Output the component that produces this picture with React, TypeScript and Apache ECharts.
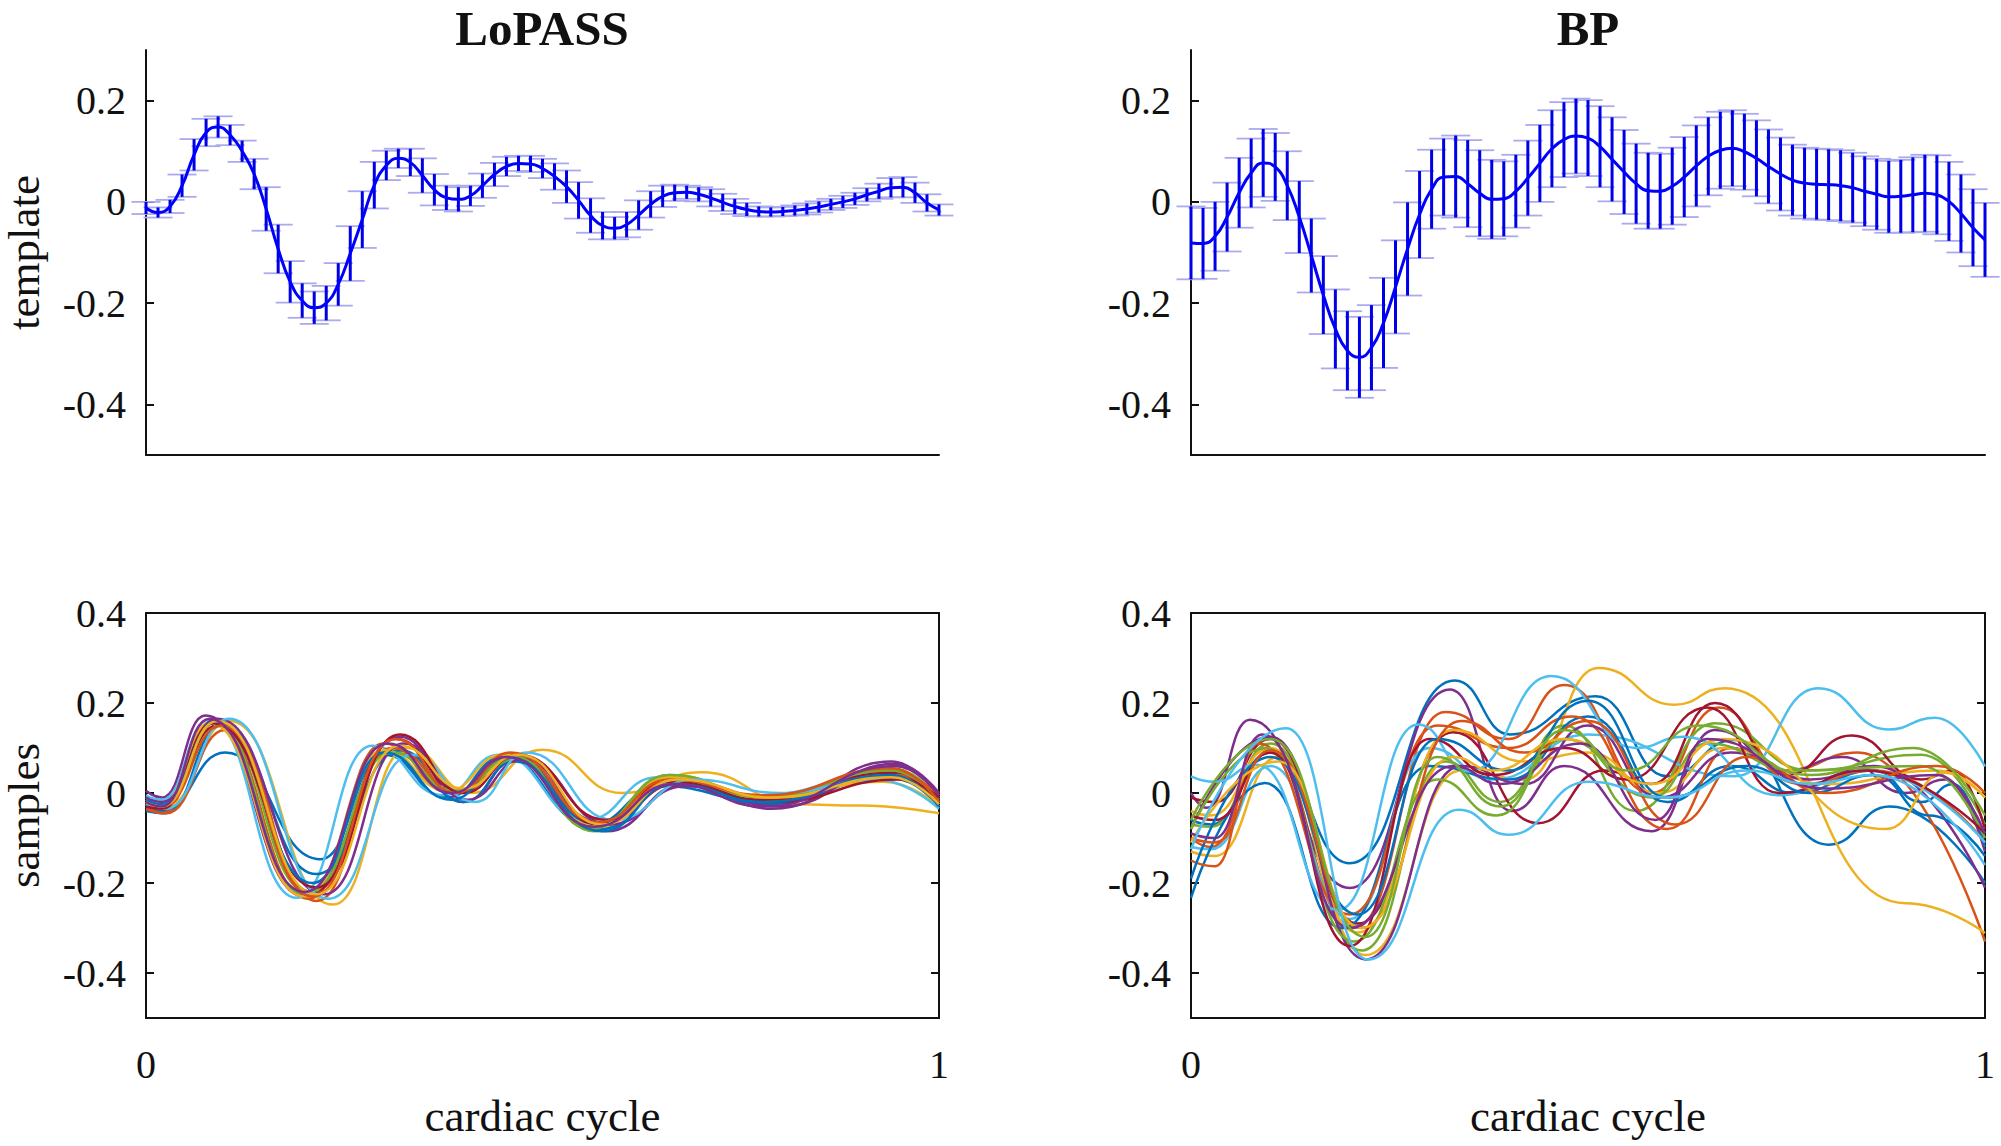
import React, { useEffect, useRef } from "react";
import * as echarts from "echarts";

// ---------- template (mean ± error) sampled at 67 evenly spaced points of the cycle ----------
const templateX = Array.from({ length: 67 }, (_, i) => i / 66);

const lopassMean = [
  -0.012, -0.021, -0.009, 0.032, 0.093, 0.137, 0.148, 0.132, 0.100, 0.055,
  -0.014, -0.093, -0.158, -0.195, -0.209, -0.200, -0.163, -0.102, -0.035, 0.033,
  0.072, 0.086, 0.078, 0.052, 0.024, 0.008, 0.005, 0.012, 0.032, 0.054,
  0.070, 0.076, 0.075, 0.066, 0.050, 0.030, 0.003, -0.027, -0.047, -0.052,
  -0.045, -0.026, -0.005, 0.011, 0.018, 0.019, 0.015, 0.008, -0.001, -0.009,
  -0.015, -0.019, -0.020, -0.019, -0.017, -0.014, -0.010, -0.005, 0.000, 0.006,
  0.014, 0.021, 0.028, 0.029, 0.018, -0.002, -0.016,
];
const lopassErr = [
  0.012, 0.010, 0.013, 0.022, 0.031, 0.027, 0.021, 0.020, 0.021, 0.030,
  0.043, 0.048, 0.041, 0.034, 0.032, 0.034, 0.042, 0.054, 0.056, 0.046,
  0.029, 0.019, 0.027, 0.034, 0.031, 0.024, 0.024, 0.020, 0.024, 0.023,
  0.019, 0.015, 0.016, 0.019, 0.026, 0.032, 0.036, 0.034, 0.027, 0.022,
  0.025, 0.029, 0.026, 0.021, 0.016, 0.013, 0.014, 0.017, 0.017, 0.015,
  0.013, 0.010, 0.009, 0.009, 0.010, 0.011, 0.011, 0.011, 0.012, 0.012,
  0.013, 0.015, 0.019, 0.020, 0.020, 0.017, 0.011,
];
const bpMean = [
  -0.081, -0.082, -0.068, -0.030, 0.018, 0.057, 0.077, 0.069, 0.032, -0.030,
  -0.106, -0.184, -0.251, -0.294, -0.307, -0.288, -0.239, -0.168, -0.093, -0.025,
  0.025, 0.049, 0.050, 0.036, 0.017, 0.005, 0.006, 0.021, 0.047, 0.076,
  0.105, 0.123, 0.130, 0.126, 0.109, 0.084, 0.059, 0.036, 0.022, 0.021,
  0.031, 0.049, 0.071, 0.090, 0.102, 0.106, 0.099, 0.086, 0.070, 0.055,
  0.043, 0.037, 0.035, 0.034, 0.032, 0.028, 0.021, 0.015, 0.010, 0.011,
  0.014, 0.017, 0.014, 0.001, -0.023, -0.051, -0.075,
];
const bpErr = [
  0.072, 0.070, 0.068, 0.068, 0.069, 0.068, 0.067, 0.067, 0.068, 0.071,
  0.073, 0.077, 0.078, 0.078, 0.080, 0.084, 0.089, 0.092, 0.092, 0.086,
  0.078, 0.076, 0.081, 0.086, 0.085, 0.078, 0.074, 0.072, 0.074, 0.076,
  0.076, 0.074, 0.074, 0.075, 0.080, 0.083, 0.083, 0.079, 0.075, 0.074,
  0.076, 0.079, 0.080, 0.077, 0.076, 0.075, 0.075, 0.075, 0.073, 0.072,
  0.070, 0.070, 0.070, 0.070, 0.070, 0.069, 0.069, 0.070, 0.071, 0.072,
  0.074, 0.076, 0.078, 0.078, 0.077, 0.076, 0.073,
];

// ---------- tick values ----------
const yTicksTop = [-0.4, -0.2, 0, 0.2];
const yTicksBottom = [-0.4, -0.2, 0, 0.2, 0.4];
const xTicks = [0, 1];

// ---------- individual samples, [cycle position, value] at their turning points ----------
const lp01 = [[0, -0.03], [0.02, -0.04], [0.1, 0.09], [0.22, -0.147], [0.3, 0.085], [0.38, -0.01], [0.45, 0.08], [0.56, -0.07], [0.65, 0.015], [0.78, -0.02], [0.93, 0.035], [1, -0.01]];
const lp02 = [[0, -0.025], [0.02, -0.045], [0.085, 0.16], [0.205, -0.235], [0.3, 0.11], [0.385, 0.0], [0.46, 0.085], [0.575, -0.065], [0.66, 0.025], [0.78, -0.01], [0.94, 0.05], [1, -0.025]];
const lp03 = [[0, -0.02], [0.025, -0.03], [0.105, 0.16], [0.236, -0.248], [0.33, 0.1], [0.41, 0.0], [0.5, 0.096], [0.6, 0.0], [0.7, 0.046], [0.82, -0.025], [0.9, -0.028], [1, -0.045]];
const lp04 = [[0, 0.005], [0.02, -0.01], [0.075, 0.172], [0.2, -0.23], [0.32, 0.125], [0.4, -0.02], [0.47, 0.08], [0.58, -0.085], [0.68, 0.02], [0.79, -0.035], [0.94, 0.07], [1, -0.005]];
const lp05 = [[0, -0.01], [0.02, -0.02], [0.085, 0.16], [0.2, -0.225], [0.305, 0.095], [0.39, 0.0], [0.47, 0.075], [0.565, -0.085], [0.66, 0.04], [0.78, -0.01], [0.94, 0.055], [1, -0.01]];
const lp06 = [[0, -0.005], [0.02, -0.015], [0.08, 0.163], [0.19, -0.233], [0.285, 0.105], [0.375, -0.005], [0.445, 0.085], [0.555, -0.06], [0.645, 0.035], [0.77, -0.005], [0.93, 0.04], [1, -0.02]];
const lp07 = [[0, -0.02], [0.02, -0.03], [0.09, 0.15], [0.21, -0.22], [0.315, 0.12], [0.395, 0.005], [0.46, 0.08], [0.57, -0.07], [0.66, 0.025], [0.78, -0.015], [0.94, 0.045], [1, -0.02]];
const lp08 = [[0, -0.04], [0.025, -0.045], [0.095, 0.15], [0.215, -0.18], [0.32, 0.095], [0.4, -0.02], [0.465, 0.07], [0.575, -0.08], [0.67, 0.03], [0.78, -0.025], [0.94, 0.035], [1, -0.03]];
const lp09 = [[0, -0.035], [0.025, -0.045], [0.1, 0.14], [0.215, -0.24], [0.31, 0.1], [0.395, 0.0], [0.46, 0.085], [0.565, -0.075], [0.67, 0.03], [0.79, -0.01], [0.95, 0.04], [1, -0.005]];
const lp10 = [[0, -0.015], [0.02, -0.025], [0.08, 0.155], [0.2, -0.23], [0.3, 0.095], [0.38, 0.005], [0.45, 0.085], [0.57, -0.075], [0.66, 0.035], [0.78, -0.01], [0.93, 0.025], [1, -0.03]];
const lp11 = [[0, -0.01], [0.02, -0.02], [0.09, 0.165], [0.225, -0.225], [0.325, 0.11], [0.405, -0.015], [0.475, 0.075], [0.585, -0.07], [0.68, 0.015], [0.8, -0.03], [0.945, 0.065], [1, 0.0]];
const lp12 = [[0, -0.02], [0.02, -0.03], [0.09, 0.158], [0.205, -0.22], [0.31, 0.09], [0.39, 0.005], [0.465, 0.08], [0.56, -0.08], [0.66, 0.04], [0.78, -0.01], [0.94, 0.05], [1, -0.015]];
const lp13 = [[0, -0.025], [0.025, -0.035], [0.105, 0.165], [0.23, -0.235], [0.335, 0.085], [0.415, -0.02], [0.48, 0.09], [0.59, -0.06], [0.69, 0.03], [0.8, 0.0], [0.92, 0.03], [1, -0.035]];
const lp14 = [[0, -0.03], [0.02, -0.035], [0.085, 0.155], [0.215, -0.21], [0.32, 0.13], [0.4, 0.0], [0.47, 0.085], [0.58, -0.06], [0.67, 0.02], [0.79, -0.02], [0.95, 0.03], [1, -0.01]];
const lp15 = [[0, -0.015], [0.02, -0.025], [0.09, 0.16], [0.21, -0.2], [0.3, 0.09], [0.385, -0.015], [0.455, 0.08], [0.575, -0.085], [0.665, 0.02], [0.78, -0.02], [0.94, 0.04], [1, -0.03]];
const lp16 = [[0, -0.02], [0.02, -0.03], [0.095, 0.15], [0.21, -0.23], [0.315, 0.12], [0.39, 0.0], [0.46, 0.09], [0.57, -0.065], [0.66, 0.03], [0.78, -0.005], [0.94, 0.055], [1, -0.02]];
const lp17 = [[0, -0.02], [0.02, -0.03], [0.09, 0.16], [0.215, -0.225], [0.32, 0.105], [0.4, 0.01], [0.47, 0.085], [0.575, -0.07], [0.67, 0.03], [0.79, -0.01], [0.94, 0.035], [1, -0.025]];
const lp18 = [[0, -0.02], [0.02, -0.03], [0.08, 0.165], [0.2, -0.22], [0.305, 0.11], [0.385, 0.0], [0.455, 0.08], [0.565, -0.075], [0.665, 0.02], [0.78, -0.03], [0.945, 0.06], [1, -0.005]];

const bp01 = [[0, -0.06], [0.025, -0.07], [0.1, 0.09], [0.2, -0.156], [0.332, 0.25], [0.402, 0.13], [0.51, 0.215], [0.6, 0.037], [0.685, 0.118], [0.803, -0.115], [0.88, -0.03], [1, -0.2]];
const bp02 = [[0, -0.1], [0.025, -0.12], [0.095, 0.1], [0.205, -0.3], [0.32, 0.18], [0.4, 0.12], [0.47, 0.24], [0.58, 0.0], [0.665, 0.19], [0.75, 0.05], [0.84, 0.09], [1, -0.33]];
const bp03 = [[0, -0.13], [0.03, -0.14], [0.11, 0.08], [0.22, -0.36], [0.34, 0.05], [0.42, 0.03], [0.513, 0.278], [0.609, 0.196], [0.672, 0.233], [0.9, -0.245], [1, -0.311]];
const bp04 = [[0, 0.0], [0.02, -0.033], [0.074, 0.163], [0.2, -0.211], [0.326, 0.23], [0.404, -0.04], [0.47, 0.06], [0.58, -0.085], [0.66, 0.14], [0.75, 0.05], [0.82, 0.08], [0.9, 0.0], [0.95, 0.03], [1, -0.13]];
const bp05 = [[0, -0.07], [0.025, -0.075], [0.1, 0.11], [0.215, -0.35], [0.32, 0.07], [0.39, -0.02], [0.47, 0.15], [0.56, -0.04], [0.66, 0.155], [0.78, 0.05], [0.92, 0.085], [1, -0.07]];
const bp06 = [[0, -0.12], [0.025, -0.125], [0.1, 0.06], [0.2, -0.28], [0.3, 0.1], [0.38, 0.03], [0.5, 0.13], [0.685, 0.037], [0.79, 0.233], [0.878, 0.141], [0.937, 0.167], [1, 0.059]];
const bp07 = [[0, -0.01], [0.03, -0.02], [0.1, 0.12], [0.21, -0.29], [0.33, 0.135], [0.437, -0.067], [0.52, 0.05], [0.58, 0.02], [0.66, 0.2], [0.75, 0.04], [0.832, 0.128], [0.92, 0.03], [0.96, 0.05], [1, -0.08]];
const bp08 = [[0, -0.233], [0.093, 0.022], [0.19, -0.3], [0.3, 0.06], [0.4, 0.03], [0.5, 0.17], [0.6, -0.02], [0.68, 0.06], [0.76, 0.0], [0.86, 0.05], [0.92, -0.02], [0.96, 0.02], [1, -0.12]];
const bp09 = [[0, -0.15], [0.03, -0.163], [0.085, 0.11], [0.2, -0.27], [0.31, 0.15], [0.4, 0.1], [0.48, 0.17], [0.6, -0.08], [0.68, 0.1], [0.77, 0.02], [0.86, 0.05], [1, -0.11]];
const bp10 = [[0, -0.04], [0.025, -0.05], [0.1, 0.1], [0.21, -0.31], [0.33, 0.14], [0.42, 0.07], [0.5, 0.09], [0.59, 0.0], [0.67, 0.1], [0.8, 0.02], [0.94, 0.05], [1, -0.01]];
const bp11 = [[0, -0.08], [0.1, 0.125], [0.22, -0.37], [0.34, 0.06], [0.42, 0.02], [0.5, 0.15], [0.59, -0.01], [0.68, 0.09], [0.78, 0.03], [0.86, 0.06], [1, -0.21]];
const bp12 = [[0, -0.08], [0.095, 0.1], [0.205, -0.33], [0.31, 0.03], [0.385, -0.05], [0.47, 0.12], [0.58, -0.01], [0.65, 0.11], [0.76, 0.05], [0.92, 0.06], [1, -0.1]];
const bp13 = [[0, 0.037], [0.03, 0.025], [0.083, 0.063], [0.185, -0.26], [0.286, 0.152], [0.35, 0.048], [0.454, 0.26], [0.56, 0.1], [0.62, 0.125], [0.74, -0.005], [0.85, 0.05], [1, -0.11]];
const bp14 = [[0, -0.05], [0.03, -0.06], [0.1, 0.09], [0.2, -0.34], [0.3, 0.12], [0.38, 0.04], [0.47, 0.1], [0.55, 0.03], [0.65, 0.19], [0.74, 0.0], [0.85, 0.05], [1, -0.09]];
const bp15 = [[0, -0.19], [0.1, 0.08], [0.21, -0.27], [0.31, 0.12], [0.4, 0.05], [0.5, 0.205], [0.6, -0.01], [0.7, 0.06], [0.78, 0.0], [0.86, 0.04], [0.93, -0.05], [1, -0.14]];
const bp16 = [[0, -0.1], [0.03, -0.11], [0.1, 0.095], [0.215, -0.3], [0.34, 0.16], [0.42, 0.09], [0.5, 0.16], [0.61, -0.07], [0.7, 0.08], [0.8, 0.0], [0.94, 0.06], [1, 0.0]];
const bp17 = [[0, -0.11], [0.11, 0.07], [0.215, -0.3], [0.33, 0.08], [0.38, 0.05], [0.47, 0.12], [0.58, 0.02], [0.67, 0.12], [0.875, -0.08], [0.95, 0.045], [1, -0.01]];
const bp18 = [[0, -0.09], [0.03, -0.1], [0.09, 0.13], [0.2, -0.3], [0.33, 0.06], [0.39, 0.02], [0.49, 0.11], [0.585, -0.06], [0.65, 0.12], [0.8, 0.01], [0.94, 0.04], [1, -0.09]];
const bp19 = [[0, -0.06], [0.1, 0.12], [0.22, -0.32], [0.31, 0.08], [0.39, -0.03], [0.47, 0.14], [0.55, 0.05], [0.64, 0.15], [0.78, 0.04], [0.91, 0.1], [1, -0.05]];
const bp20 = [[0, -0.125], [0.12, 0.144], [0.223, -0.37], [0.337, -0.037], [0.4, -0.093], [0.5, 0.025], [0.6, -0.01], [0.7, 0.05], [0.78, 0.02], [0.86, 0.04], [1, -0.16]];

const lopassSamples = [lp01, lp02, lp03, lp04, lp05, lp06, lp07, lp08, lp09, lp10, lp11, lp12, lp13, lp14, lp15, lp16, lp17, lp18];
const bpSamples = [bp01, bp02, bp03, bp04, bp05, bp06, bp07, bp08, bp09, bp10, bp11, bp12, bp13, bp14, bp15, bp16, bp17, bp18, bp19, bp20];

const lineColors = ["#0072BD", "#D95319", "#EDB120", "#7E2F8E", "#77AC30", "#4DBEEE", "#A2142F"];

const FONT = "'Liberation Serif', 'Times New Roman', serif";
const INK = "#111111";

function fmtY(v: number) {
  const r = Math.round(v * 10) / 10;
  return r === 0 ? "0" : r.toFixed(1);
}

function buildOption() {
  const grids = [
    { left: 145, top: 50, width: 794, height: 405 },
    { left: 1191, top: 50, width: 794, height: 405 },
    { left: 145, top: 613, width: 794, height: 405 },
    { left: 1191, top: 613, width: 794, height: 405 },
  ];

  const axisLine = { show: true, onZero: false, lineStyle: { color: INK, width: 2 } };
  const tickStyle = { color: INK, width: 2 };

  const yMain = (gridIndex: number, min: number, max: number, ticks: number[], name: string) => ({
    type: "value",
    gridIndex,
    min,
    max,
    position: "left",
    axisLine,
    axisTick: { show: true, inside: true, length: 8, customValues: ticks, lineStyle: tickStyle },
    axisLabel: { show: true, customValues: ticks, margin: 20, fontSize: 40, fontFamily: FONT, color: INK, formatter: fmtY },
    splitLine: { show: false },
    name,
    nameLocation: "middle",
    nameGap: 100,
    nameRotate: 90,
    nameTextStyle: { fontSize: 45, fontFamily: FONT, color: INK },
  });

  const yRight = (gridIndex: number, min: number, max: number, ticks: number[]) => ({
    type: "value",
    gridIndex,
    min,
    max,
    position: "right",
    axisLine,
    axisTick: { show: true, inside: true, length: 8, customValues: ticks, lineStyle: tickStyle },
    axisLabel: { show: false },
    splitLine: { show: false },
  });

  const xTop = (gridIndex: number) => ({
    type: "value",
    gridIndex,
    min: 0,
    max: 1,
    position: "bottom",
    axisLine,
    axisTick: { show: false },
    axisLabel: { show: false },
    splitLine: { show: false },
  });

  const xBottom = (gridIndex: number) => ({
    type: "value",
    gridIndex,
    min: 0,
    max: 1,
    position: "bottom",
    axisLine,
    axisTick: { show: true, inside: true, length: 8, customValues: xTicks, lineStyle: tickStyle },
    axisLabel: { show: true, customValues: xTicks, margin: 26, fontSize: 40, fontFamily: FONT, color: INK, formatter: (v: number) => String(Math.round(v)) },
    splitLine: { show: false },
    name: "cardiac cycle",
    nameLocation: "middle",
    nameGap: 75,
    nameTextStyle: { fontSize: 45, fontFamily: FONT, color: INK },
  });

  const xFrame = (gridIndex: number) => ({
    type: "value",
    gridIndex,
    min: 0,
    max: 1,
    position: "top",
    axisLine,
    axisTick: { show: true, inside: true, length: 8, customValues: xTicks, lineStyle: tickStyle },
    axisLabel: { show: false },
    splitLine: { show: false },
  });

  const xAxis = [xTop(0), xTop(1), xBottom(2), xBottom(3), xFrame(2), xFrame(3)];
  const yAxis = [
    yMain(0, -0.5, 0.3, yTicksTop, "template"),
    { ...yMain(1, -0.5, 0.3, yTicksTop, ""), name: "" },
    yMain(2, -0.5, 0.4, yTicksBottom, "samples"),
    { ...yMain(3, -0.5, 0.4, yTicksBottom, ""), name: "" },
    yRight(2, -0.5, 0.4, yTicksBottom),
    yRight(3, -0.5, 0.4, yTicksBottom),
  ];

  const series: any[] = [];

  const addTemplate = (axisIndex: number, mean: number[], err: number[]) => {
    const ebData = templateX.map((x, i) => [x, mean[i] - err[i], mean[i] + err[i]]);
    series.push({
      type: "custom",
      xAxisIndex: axisIndex,
      yAxisIndex: axisIndex,
      z: 2,
      silent: true,
      data: ebData,
      encode: { x: 0, y: [1, 2] },
      renderItem: (params: any, api: any) => {
        const x = api.value(0);
        const lo = api.coord([x, api.value(1)]);
        const hi = api.coord([x, api.value(2)]);
        const w = 14.5;
        const st = { stroke: "#aaaaee", lineWidth: 1.8 };
        return {
          type: "group",
          children: [
            { type: "line", shape: { x1: lo[0] - w, y1: lo[1], x2: lo[0] + w, y2: lo[1] }, style: st },
            { type: "line", shape: { x1: hi[0] - w, y1: hi[1], x2: hi[0] + w, y2: hi[1] }, style: st },
          ],
        };
      },
    });
    series.push({
      type: "custom",
      xAxisIndex: axisIndex,
      yAxisIndex: axisIndex,
      z: 3,
      silent: true,
      data: ebData,
      encode: { x: 0, y: [1, 2] },
      renderItem: (params: any, api: any) => {
        const x = api.value(0);
        const lo = api.coord([x, api.value(1)]);
        const hi = api.coord([x, api.value(2)]);
        return {
          type: "line",
          shape: { x1: lo[0], y1: lo[1], x2: hi[0], y2: hi[1] },
          style: { stroke: "#0000e8", lineWidth: 3 },
        };
      },
    });
    series.push({
      type: "line",
      xAxisIndex: axisIndex,
      yAxisIndex: axisIndex,
      z: 4,
      silent: true,
      data: templateX.map((x, i) => [x, mean[i]]),
      smooth: true,
      showSymbol: false,
      symbol: "none",
      lineStyle: { color: "#0000ff", width: 3 },
    });
  };

  addTemplate(0, lopassMean, lopassErr);
  addTemplate(1, bpMean, bpErr);

  const addSamples = (axisIndex: number, curves: number[][][]) => {
    curves.forEach((c, k) => {
      series.push({
        type: "line",
        xAxisIndex: axisIndex,
        yAxisIndex: axisIndex,
        z: 2,
        silent: true,
        data: c,
        smooth: 0.5,
        smoothMonotone: "x",
        showSymbol: false,
        symbol: "none",
        lineStyle: { color: lineColors[k % lineColors.length], width: 2.5 },
      });
    });
  };
  addSamples(2, lopassSamples);
  addSamples(3, bpSamples);

  const titleStyle = { fontSize: 49, fontWeight: "bold", fontFamily: FONT, color: INK };

  return {
    animation: false,
    backgroundColor: "#ffffff",
    title: [
      { text: "LoPASS", left: 542, top: 4, padding: 0, textAlign: "center", textStyle: titleStyle },
      { text: "BP", left: 1588, top: 4, padding: 0, textAlign: "center", textStyle: titleStyle },
    ],
    grid: grids,
    xAxis,
    yAxis,
    series,
  };
}

export default function App() {
  const ref = useRef<HTMLDivElement>(null);
  useEffect(() => {
    if (!ref.current) return;
    const chart = echarts.init(ref.current, undefined, { renderer: "svg" });
    chart.setOption(buildOption() as any);
    return () => chart.dispose();
  }, []);
  return (
    <div
      ref={ref}
      style={{ position: "absolute", left: 0, top: 0, width: 2001, height: 1146, background: "#fff" }}
    />
  );
}
